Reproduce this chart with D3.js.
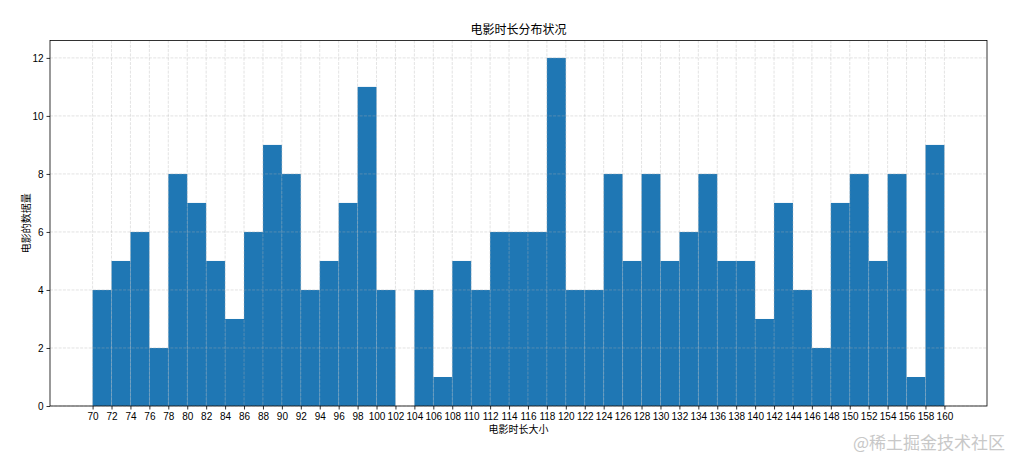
<!DOCTYPE html>
<html>
<head>
<meta charset="utf-8">
<script src="https://cdn.jsdelivr.net/npm/d3@7"></script>
<style>
body { margin: 0; background: #fff; }
svg text { font-family: "Noto Sans CJK SC", "DejaVu Sans", sans-serif; }
</style>
</head>
<body>
<svg id="chart" width="1021" height="467"></svg>
<script>
// 分组起点 (每组宽度 2 分钟)
let binStarts = d3.range(70, 160, 2)
let counts = [4, 5, 6, 2, 8, 7, 5, 3, 6, 9, 8, 4, 5, 7, 11, 4, 0, 4, 1, 5,
    4, 6, 6, 6, 12, 4, 4, 8, 5, 8, 5, 6, 8, 5, 5, 3, 7, 4, 2, 7,
    8, 5, 8, 1, 9]
let xTicks = d3.range(70, 161, 2)
let yTicks = [0, 2, 4, 6, 8, 10, 12]
let binWidth = 2

let width = 1021
let height = 467
let margin = { top: 40.5, right: 34, bottom: 61, left: 50 }

let svg = d3.select("#chart")

let xScale = d3.scaleLinear()
    .domain([65.5, 164.5])
    .range([margin.left, width - margin.right])
let yScale = d3.scaleLinear()
    .domain([0, 12.6])
    .range([height - margin.bottom, margin.top])

// 柱子
svg.append("g")
    .selectAll("rect")
    .data(binStarts)
    .enter()
    .append("rect")
    .attr("x", d => xScale(d))
    .attr("y", (d, i) => yScale(counts[i]))
    .attr("width", xScale(binWidth) - xScale(0))
    .attr("height", (d, i) => yScale(0) - yScale(counts[i]))
    .attr("fill", "#1f77b4")

// 网格线
let grid = svg.append("g")
grid.selectAll(".vg")
    .data(xTicks)
    .enter()
    .append("line")
    .attr("x1", d => xScale(d)).attr("x2", d => xScale(d))
    .attr("y1", margin.top).attr("y2", height - margin.bottom)
    .attr("stroke", "#b0b0b0")
    .attr("stroke-opacity", 0.45)
    .attr("stroke-width", 0.8)
    .attr("stroke-dasharray", "3,1.3")
grid.selectAll(".hg")
    .data(yTicks)
    .enter()
    .append("line")
    .attr("x1", margin.left).attr("x2", width - margin.right)
    .attr("y1", d => yScale(d)).attr("y2", d => yScale(d))
    .attr("stroke", "#b0b0b0")
    .attr("stroke-opacity", 0.45)
    .attr("stroke-width", 0.8)
    .attr("stroke-dasharray", "3,1.3")

// 坐标轴
let xAxis = svg.append("g")
    .attr("transform", "translate(0," + (height - margin.bottom) + ")")
    .call(d3.axisBottom(xScale).tickValues(xTicks).tickSize(3.5).tickPadding(3))
let yAxis = svg.append("g")
    .attr("transform", "translate(" + margin.left + ",0)")
    .call(d3.axisLeft(yScale).tickValues(yTicks).tickSize(3.5).tickPadding(3))
svg.selectAll(".domain").remove()
svg.selectAll(".tick text")
    .attr("font-size", "10px")
    .attr("fill", "#000")
    .style("font-family", "\"Liberation Sans Narrow\", \"Liberation Sans\", sans-serif")
svg.selectAll(".tick line").attr("stroke", "#000").attr("stroke-width", 0.8)

// 边框
svg.append("rect")
    .attr("x", margin.left)
    .attr("y", margin.top)
    .attr("width", width - margin.left - margin.right)
    .attr("height", height - margin.top - margin.bottom)
    .attr("fill", "none")
    .attr("stroke", "#000")
    .attr("stroke-width", 0.8)

// 标题和轴标签
svg.append("text")
    .attr("x", (margin.left + width - margin.right) / 2)
    .attr("y", 34)
    .attr("text-anchor", "middle")
    .attr("font-size", "12px")
    .text("电影时长分布状况")
svg.append("text")
    .attr("x", (margin.left + width - margin.right) / 2)
    .attr("y", 433)
    .attr("text-anchor", "middle")
    .attr("font-size", "10px")
    .text("电影时长大小")
svg.append("text")
    .attr("transform", "translate(30," + ((margin.top + height - margin.bottom) / 2) + ") rotate(-90)")
    .attr("text-anchor", "middle")
    .attr("font-size", "10px")
    .text("电影的数据量")

// 水印
svg.append("text")
    .attr("x", 1005)
    .attr("y", 449)
    .attr("text-anchor", "end")
    .attr("font-size", "17px")
    .attr("fill", "#c8c8c8")
    .text("@稀土掘金技术社区")
</script>
</body>
</html>
